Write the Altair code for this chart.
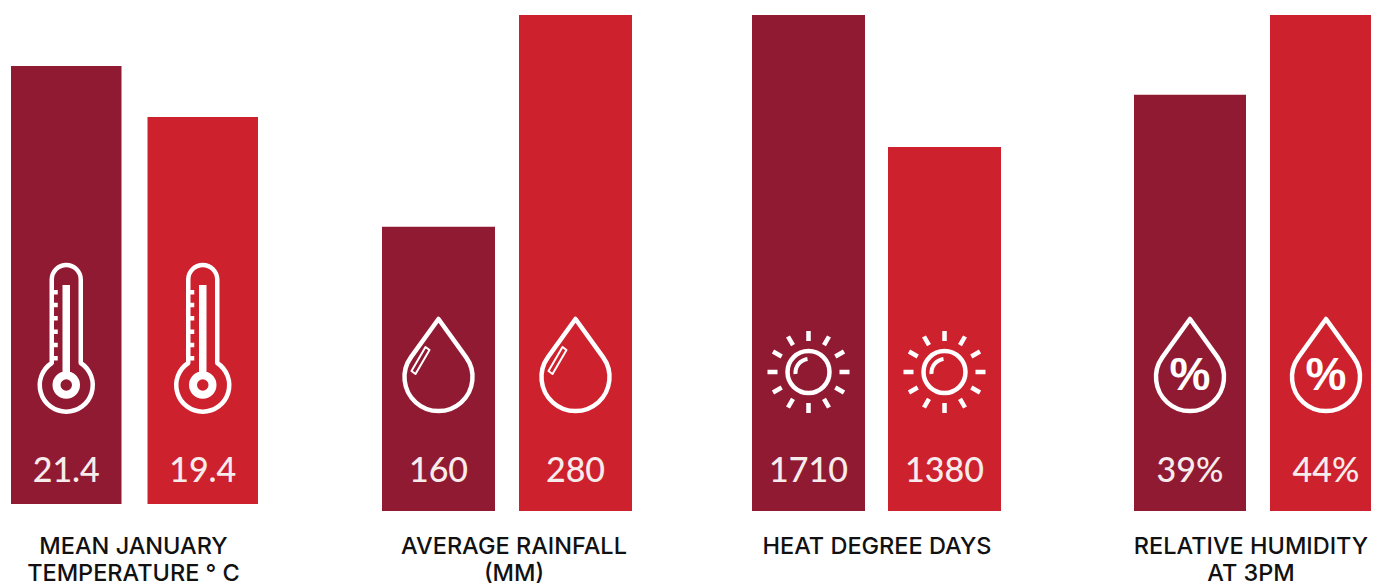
import math
import altair as alt
import pandas as pd

# --- data ---
series = ["First", "Second"]
panel_titles = [
    "MEAN JANUARY\nTEMPERATURE  ° C",
    "AVERAGE RAINFALL\n(MM)",
    "HEAT DEGREE DAYS",
    "RELATIVE HUMIDITY\nAT 3PM",
]
value_labels = [["21.4", "19.4"], ["160", "280"], ["1710", "1380"], ["39%", "44%"]]
# drawn bar height, as a share (%) of the tallest bar
bar_levels = [[88.3, 78.0], [57.3, 100.0], [100.0, 73.4], [83.9, 100.0]]
bar_colors = ["#911A33", "#CE212E"]

# --- glyphs (pixel units around the icon's anchor; size=4 draws them 1:1) ---
THERMO = (
    "M-14.5,-22 L-14.5,-105.5 A14.5,14.5 0 0 1 14.5,-105.5 L14.5,-22 "
    "A26.5,26.5 0 1 1 -14.5,-22 Z "
    "M-11.5,0 A11.5,11.5 0 1 1 11.5,0 A11.5,11.5 0 1 1 -11.5,0 Z "
    "M-8,0 A8,8 0 1 1 8,0 A8,8 0 1 1 -8,0 Z "
    "M-1.5,-100 L-1.5,-13 M1.5,-100 L1.5,-13 "
    + " ".join(f"M-14.5,{y} L-8.5,{y}" for y in (-92.7, -80, -66.7, -53.3, -40, -26.7))
)
DROP = "M0,-58 L27.5,-19.9 A34,34 0 1 1 -27.5,-19.9 Z"
DROP_SHINE = "M-27,-6 L-13,-30 L-9,-27 L-23,-3 Z"
SUN = "M-21,0 A21,21 0 1 1 21,0 A21,21 0 1 1 -21,0 Z " + " ".join(
    f"M{31 * math.sin(a):.1f},{-31 * math.cos(a):.1f} L{41 * math.sin(a):.1f},{-41 * math.cos(a):.1f}"
    for a in (math.radians(d) for d in range(0, 360, 30))
)
SUN_SHINE = "M-13,2 A14,14 0 0 1 -1,-13"

TOP = 15
VALUE_FONT = "Lato"
TITLE_FONT = "Inter"


def panel(i, px_width, bar_w, baseline, title_dx, icons, range_end=None):
    df = pd.DataFrame({
        "series": series,
        "label": value_labels[i],
        "level": bar_levels[i],
        "title": [panel_titles[i]] * 2,
    })
    full = range_end or px_width
    step = full - bar_w
    x = alt.X(
        "series:N",
        axis=None,
        scale=alt.Scale(type="band", domain=series, range=[0, full],
                        paddingInner=(step - bar_w) / step, paddingOuter=0),
    )
    bars = alt.Chart(df).mark_bar(clip=True, cornerRadius=0).encode(
        x=x,
        y=alt.Y("level:Q", axis=None,
                scale=alt.Scale(domain=[0, 100], range=[baseline - TOP, baseline - TOP - 496], nice=False)),
        y2=alt.Y2(datum=0),
        color=alt.Color("series:N", legend=None, scale=alt.Scale(domain=series, range=bar_colors)),
    )
    values = alt.Chart(df).mark_text(
        font=VALUE_FONT, fontSize=34, fontWeight=500, color="#F7ECEC", baseline="alphabetic", align="center"
    ).encode(x=x, y=alt.value(482 - TOP), text="label:N")
    layers = [bars]
    for ic in icons:
        if "text" in ic:
            layers.append(alt.Chart(df).mark_text(
                text=ic["text"], font="Liberation Sans", fontWeight="bold", fontSize=ic["size"],
                color="white", baseline="middle", align="center",
            ).encode(x=x, y=alt.value(ic["y"] - TOP)))
        else:
            layers.append(alt.Chart(df).mark_point(
                shape=ic["path"], size=4, filled=False, stroke="white", opacity=1,
                strokeWidth=ic["sw"], strokeJoin="round",
            ).encode(x=x, y=alt.value(ic["y"] - TOP)))
    layers.append(values)
    title = alt.Chart(df.head(1)).mark_text(
        font=TITLE_FONT, fontSize=23.5, fontWeight=500, color="#111111", baseline="alphabetic",
        align="center", lineBreak="\n", lineHeight=27, clip=True,
    ).encode(x=alt.value(px_width / 2 + title_dx), y=alt.value(554 - TOP), text="title:N")
    layers.append(title)
    return alt.layer(*layers).properties(width=px_width, height=587 - TOP)


p1 = panel(0, 247, 110.5, 504, -1, [{"path": THERMO, "y": 385, "sw": 4.5}])
p2 = panel(1, 250, 113, 511, 7, [{"path": DROP, "y": 377, "sw": 4.5}, {"path": DROP_SHINE, "y": 377, "sw": 2}])
p3 = panel(2, 249, 113, 511, 0.5, [{"path": SUN, "y": 372, "sw": 4.5}, {"path": SUN_SHINE, "y": 372, "sw": 4}])
p4 = panel(3, 237, 112, 511, -1.5, [{"path": DROP, "y": 377, "sw": 4.5}, {"text": "%", "y": 376, "size": 46}], range_end=248)

chart = alt.hconcat(
    alt.hconcat(alt.hconcat(p1, p2, spacing=124), p3, spacing=120), p4, spacing=133
).resolve_scale(x="independent", y="independent", color="independent").properties(
    padding={"left": 3, "top": 7, "right": 0, "bottom": 0}
).configure_view(stroke=None)

chart.save("out.html", embed_options={"renderer": "svg", "actions": False})
